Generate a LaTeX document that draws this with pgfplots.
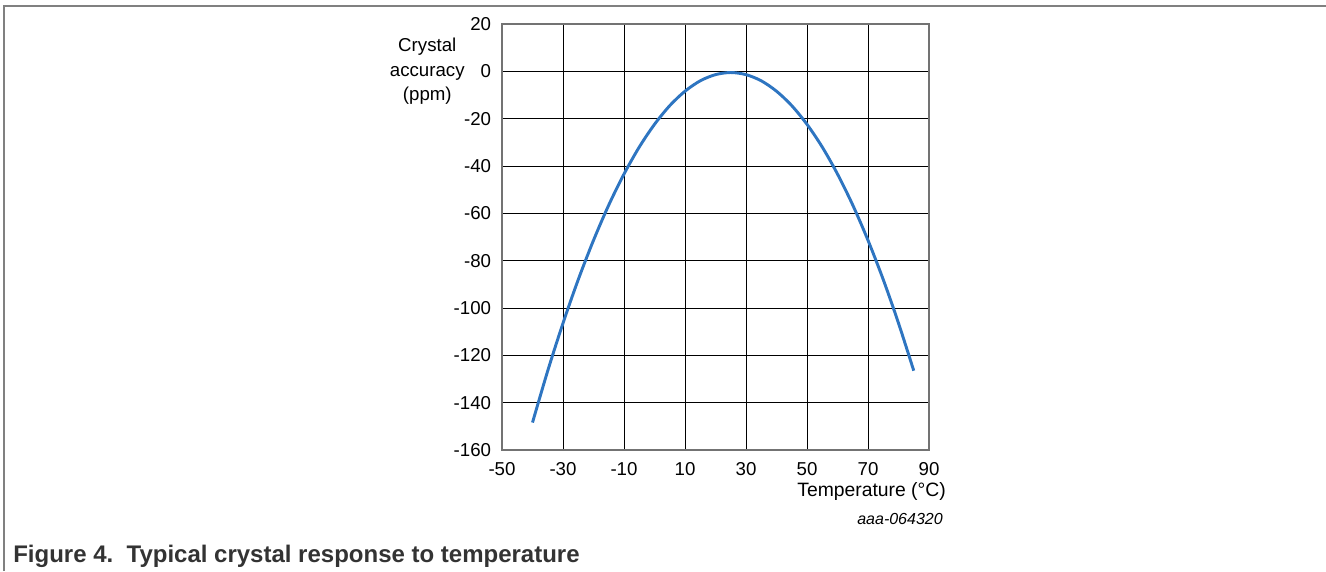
\documentclass[border=0pt]{standalone}
\usepackage{fontspec}
\setmainfont{Liberation Sans}
\usepackage{pgfplots}
\pgfplotsset{compat=1.18}
\definecolor{curveblue}{RGB}{46,117,193}
\definecolor{framegray}{RGB}{128,128,128}

\begin{document}
\begin{tikzpicture}[x=0.75pt,y=0.75pt]
  % page frame (1 unit = 1 reference pixel)
  \path[use as bounding box] (0,0) rectangle (1326,571);
  \draw[framegray, line width=1.1pt] (4,0) -- (4,565) -- (1326,565);

  \begin{axis}[
      at={(376.5pt,90.75pt)}, anchor=south west,
      scale only axis,
      width=320.25pt, height=319.5pt,
      xmin=-50, xmax=90, ymin=-160, ymax=20,
      xtick={-50,-30,-10,10,30,50,70,90},
      xticklabels={-50,-30,-10,10,30,50,70,90},
      ytick={-160,-140,-120,-100,-80,-60,-40,-20,0,20},
      yticklabels={-160,-140,-120,-100,-80,-60,-40,-20,0,20},
      major tick length=0pt,
      grid=major,
      major grid style={black, line width=0.6pt},
      axis line style={black!55, line width=1.2pt},
      tick label style={font=\fontsize{14}{16}\selectfont, inner sep=0pt},
      yticklabel style={xshift=-8pt},
      xticklabel style={yshift=-9pt},
      ylabel={Crystal\\accuracy\\(ppm)},
      every axis y label/.style={at={(axis cs:-74.5,0)}, anchor=center,
        align=center, font=\fontsize{14}{18.4}\selectfont},
      xlabel={Temperature (°C)},
      every axis x label/.style={at={(axis cs:95.6,-177.7)}, anchor=east,
        font=\fontsize{14.5}{16}\selectfont, inner sep=0pt},
    ]
    \addplot[curveblue, line width=2.2pt, smooth, mark=none] coordinates {
      (-40,-148.4) (-35,-126.5) (-30,-106.4) (-25,-88.0) (-20,-71.4)
      (-15,-56.5) (-10,-43.4) (-5,-32.0) (0,-22.4) (5,-14.5) (10,-8.4)
      (15,-4.0) (20,-1.4) (25,-0.5) (30,-1.4) (35,-4.0) (40,-8.4)
      (45,-14.5) (50,-22.4) (55,-32.0) (60,-43.4) (65,-56.5) (70,-71.4)
      (75,-88.0) (80,-106.4) (85,-126.5)
    };
  \end{axis}

  \node[anchor=east, inner sep=0pt, font=\fontsize{12}{14}\selectfont\itshape]
    at (943,52) {aaa-064320};
  \node[anchor=west, inner sep=0pt, text=black!80,
        font=\fontsize{18}{20}\selectfont\bfseries]
    at (13,15) {Figure 4.\ \ Typical crystal response to temperature};
\end{tikzpicture}
\end{document}
